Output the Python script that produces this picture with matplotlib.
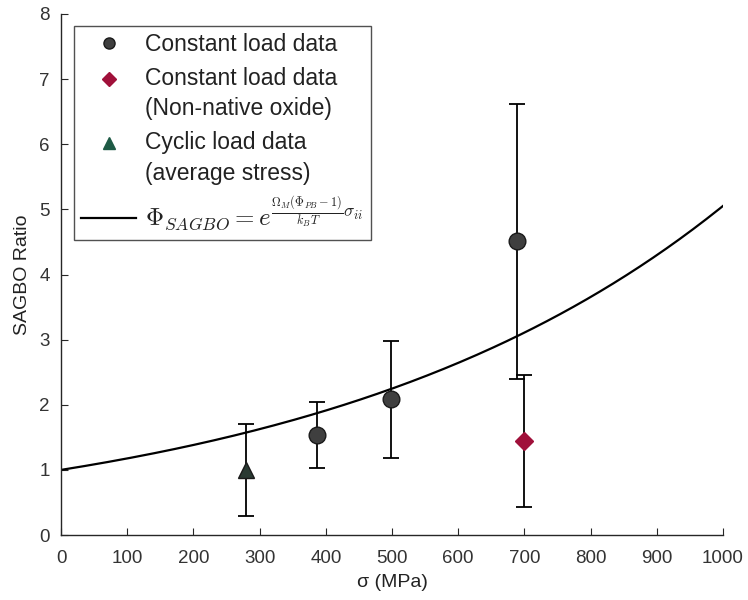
import numpy as np
import matplotlib
matplotlib.use('Agg')
from matplotlib import pyplot as plt
from matplotlib.legend_handler import HandlerLine2D

plt.rcParams['font.family'] = ['Liberation Sans', 'DejaVu Sans']
plt.rcParams['mathtext.fontset'] = 'cm'

# constant load data (native oxide)
const_sigma = [387, 498, 689]
const_ratio = [1.53, 2.09, 4.52]
const_lo = [1.03, 1.18, 2.40]
const_hi = [2.04, 2.98, 6.62]

# constant load, non-native oxide
nn_sigma = [699]
nn_ratio = [1.44]
nn_lo = [0.43]
nn_hi = [2.46]

# cyclic load data (average stress)
cyc_sigma = [279]
cyc_ratio = [1.00]
cyc_lo = [0.29]
cyc_hi = [1.71]

k_fit = 0.00162
sigma_fit = np.linspace(0, 1000, 200)

axcol = '#262626'

def yerr(v, lo, hi):
    v = np.array(v)
    return np.vstack([v - np.array(lo), np.array(hi) - v])

class TopLineHandler(HandlerLine2D):
    # put the marker next to the first line of a two-line label (matlab style)
    def create_artists(self, legend, orig_handle, xdescent, ydescent, width, height, fontsize, trans):
        arts = super().create_artists(legend, orig_handle, xdescent, ydescent, width, height, fontsize, trans)
        for a in arts:
            a.set_ydata(np.asarray(a.get_ydata()) + 0.68 * fontsize)
        return arts

fig = plt.figure(figsize=(7.48, 6.0), dpi=100)
ax = fig.add_axes([0.0816, 0.1083, 0.885, 0.8684])

ebkw = dict(ecolor='black', elinewidth=1.3, capsize=6, capthick=1.3, linestyle='none')
h1 = ax.errorbar(const_sigma, const_ratio, yerr=yerr(const_ratio, const_lo, const_hi),
                 marker='o', markersize=12, markerfacecolor='#3f3f3f', markeredgecolor='#1a1a1a', **ebkw)
h2 = ax.errorbar(nn_sigma, nn_ratio, yerr=yerr(nn_ratio, nn_lo, nn_hi),
                 marker='D', markersize=9, markerfacecolor='#a0103a', markeredgecolor='#a0103a', **ebkw)
h3 = ax.errorbar(cyc_sigma, cyc_ratio, yerr=yerr(cyc_ratio, cyc_lo, cyc_hi),
                 marker='^', markersize=12, markerfacecolor='#2a3a33', markeredgecolor='#1a1a1a', **ebkw)
h4, = ax.plot(sigma_fit, np.exp(k_fit * sigma_fit), color='black', linewidth=1.6)

ax.set_xlim(0, 1000)
ax.set_ylim(0, 8)
ax.set_xticks(np.arange(0, 1001, 100))
ax.set_yticks(np.arange(0, 9, 1))
ax.tick_params(direction='in', length=5, width=0.8, colors=axcol, labelsize=13.5, labelcolor='#333333')
ax.tick_params(axis='x', pad=11)
ax.tick_params(axis='y', pad=8)
for s in ['top', 'right']:
    ax.spines[s].set_visible(False)
for s in ['left', 'bottom']:
    ax.spines[s].set_color(axcol)
    ax.spines[s].set_linewidth(1.0)

ax.set_xlabel('σ (MPa)', fontsize=14, color='#222222', labelpad=5)
ax.set_ylabel('SAGBO Ratio', fontsize=14, color='#222222', labelpad=6)

# legend handles with smaller markers, no error bars
l1, = ax.plot([], [], 'o', markersize=8, markerfacecolor='#3f3f3f', markeredgecolor='#1a1a1a')
l2, = ax.plot([], [], 'D', markersize=7, markerfacecolor='#a0103a', markeredgecolor='#a0103a')
l3, = ax.plot([], [], '^', markersize=8, markerfacecolor='#1e5a45', markeredgecolor='#1e5a45')
labels = ['Constant load data',
          'Constant load data\n(Non-native oxide)',
          'Cyclic load data\n(average stress)',
          r'$\Phi_{SAGBO} = e^{\frac{\Omega_M(\Phi_{PB}-1)}{k_B T}\sigma_{ii}}$']
leg = ax.legend([l1, l2, l3, h4], labels, loc='upper left', bbox_to_anchor=(0.02, 0.976),
                fontsize=16.5, frameon=True, fancybox=False, handlelength=2.4,
                handletextpad=0.4, labelspacing=0.46, borderpad=0.3, borderaxespad=0,
                handler_map={l2: TopLineHandler(), l3: TopLineHandler()})
leg.get_frame().set_edgecolor(axcol)
leg.get_frame().set_linewidth(1.0)
for t in leg.get_texts():
    t.set_linespacing(1.42)
    t.set_color('#222222')
leg.get_texts()[3].set_fontsize(18)

fig.savefig('out.png', dpi=100)
